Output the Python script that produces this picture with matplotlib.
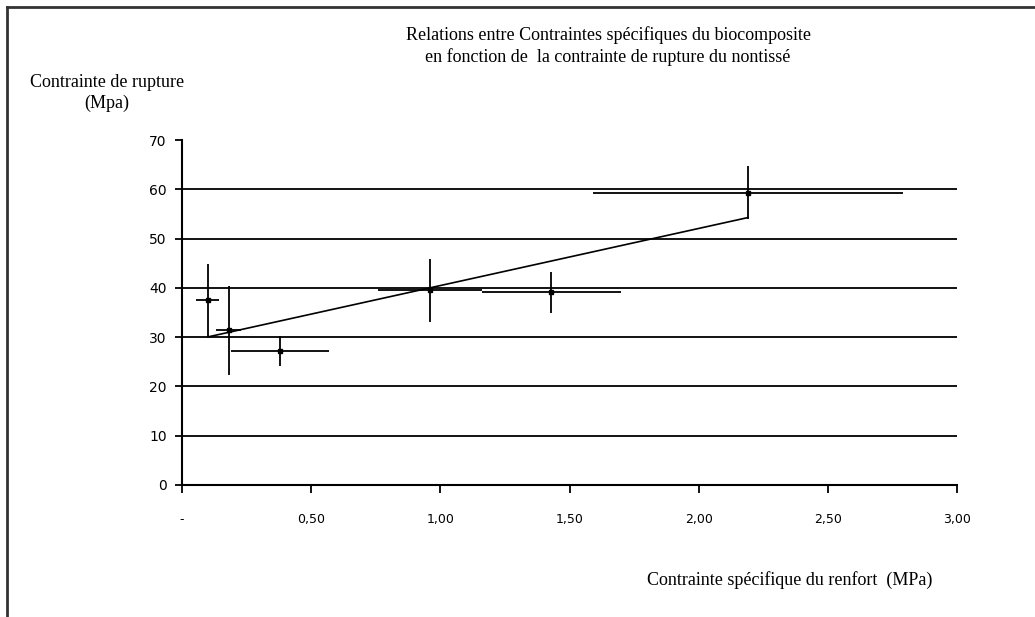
import numpy as np
import matplotlib
matplotlib.use("Agg")
import matplotlib.pyplot as plt
from matplotlib.lines import Line2D

# Data
x_vals = [0.10, 0.18, 0.38, 0.96, 1.43, 2.19]
y_vals = [37.5, 31.4, 27.2, 39.5, 39.1, 59.3]
x_err = [0.045, 0.05, 0.19, 0.20, 0.27, 0.60]
y_err = [7.3, 9.0, 3.1, 6.4, 4.2, 5.4]
x_ticks = [0, 0.5, 1.0, 1.5, 2.0, 2.5, 3.0]
x_ticklabels = ["-", "0,50", "1,00", "1,50", "2,00", "2,50", "3,00"]
y_ticks = [0, 10, 20, 30, 40, 50, 60, 70]

title = "Relations entre Contraintes spécifiques du biocomposite\nen fonction de  la contrainte de rupture du nontissé"
ylabel = "Contrainte de rupture\n(Mpa)"
xlabel = "Contrainte spécifique du renfort  (MPa)"

serif = ["Liberation Serif", "DejaVu Serif"]

fig = plt.figure(figsize=(10.35, 6.17), dpi=100)
ax = fig.add_axes([182/1035, 1 - 485/617, (957-182)/1035, (485-140)/617])

# gridlines
for yt in y_ticks[1:-1]:
    ax.axhline(yt, color="black", lw=1.3, zorder=1)

# trendline (least squares fit of the data, over data range)
coef = np.polyfit(x_vals, y_vals, 1)
xt = np.array([min(x_vals), max(x_vals)])
ax.plot(xt, np.polyval(coef, xt), color="black", lw=1.2, zorder=2)

ax.errorbar(x_vals, y_vals, xerr=x_err, yerr=y_err, fmt="s", color="black",
            ms=3.5, elinewidth=1.3, capsize=0, zorder=3)

ax.set_xlim(0, 3.0)
ax.set_ylim(0, 70)
ax.set_xticks(x_ticks)
ax.set_xticklabels(x_ticklabels)
ax.set_yticks(y_ticks)
for s in ["top", "right"]:
    ax.spines[s].set_visible(False)
for s in ["left", "bottom"]:
    ax.spines[s].set_linewidth(1.5)
ax.tick_params(axis="x", direction="out", length=6, width=1.3, pad=14, labelsize=9)
ax.tick_params(axis="y", direction="out", length=5, width=1.3, pad=6, labelsize=10)
for lab in ax.get_xticklabels() + ax.get_yticklabels():
    lab.set_fontfamily(["DejaVu Sans"])

fig.text(608/1035, 1 - 46/617, title, ha="center", va="center", fontsize=13,
         family=serif, linespacing=1.3)
fig.text(107/1035, 1 - 93/617, ylabel, ha="center", va="center", fontsize=13,
         family=serif, linespacing=1.25)
fig.text(790/1035, 1 - 580/617, xlabel, ha="center", va="center", fontsize=13,
         family=serif)

# outer frame (left and top edges)
fig.add_artist(Line2D([7/1035, 7/1035], [0, 1 - 7/617], transform=fig.transFigure,
                      color="#333333", lw=2))
fig.add_artist(Line2D([7/1035, 1], [1 - 7/617, 1 - 7/617], transform=fig.transFigure,
                      color="#333333", lw=2))

fig.savefig("out.png", dpi=100)
